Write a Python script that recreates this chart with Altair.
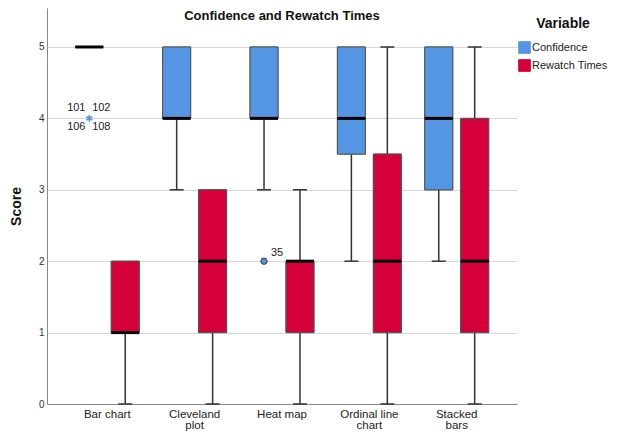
import altair as alt
import pandas as pd

# ---- data ----
categories = ["Bar chart", "Cleveland plot", "Heat map", "Ordinal line chart", "Stacked bars"]
cat_lines = [["Bar chart"], ["Cleveland", "plot"], ["Heat map"], ["Ordinal line", "chart"], ["Stacked", "bars"]]
series = ["Confidence", "Rewatch Times"]
colors = ["#5596e4", "#d5003a"]

conf_low = [5, 3, 3, 2, 2]
conf_q1 = [5, 4, 4, 3.5, 3]
conf_med = [5, 4, 4, 4, 4]
conf_q3 = [5, 5, 5, 5, 5]
conf_high = [5, 5, 5, 5, 5]

rew_low = [0, 0, 0, 0, 0]
rew_q1 = [1, 1, 1, 1, 1]
rew_med = [1, 2, 2, 2, 2]
rew_q3 = [2, 3, 2, 3.5, 4]
rew_high = [2, 3, 3, 5, 5]

out_cat = ["Bar chart", "Heat map"]
out_series = ["Confidence", "Confidence"]
out_value = [4, 2]
out_kind = ["extreme", "outlier"]
out_ids = [[101, 102, 106, 108], [35]]

# ---- tables ----
rows = []
for i, c in enumerate(categories):
    rows.append(dict(cat=c, series="Confidence", low=conf_low[i], q1=conf_q1[i], med=conf_med[i], q3=conf_q3[i], high=conf_high[i]))
    rows.append(dict(cat=c, series="Rewatch Times", low=rew_low[i], q1=rew_q1[i], med=rew_med[i], q3=rew_q3[i], high=rew_high[i]))
box = pd.DataFrame(rows)

orows, lrows = [], []
for c, s, v, k, ids in zip(out_cat, out_series, out_value, out_kind, out_ids):
    orows.append(dict(cat=c, series=s, value=v, kind=k))
    if len(ids) == 1:
        lrows.append(dict(cat=c, series=s, value=v, id=str(ids[0]), pos="r"))
    else:
        for pid, p in zip(ids, ["tl", "tr", "bl", "br"]):
            lrows.append(dict(cat=c, series=s, value=v, id=str(pid), pos=p))
outl = pd.DataFrame(orows)
labs = pd.DataFrame(lrows)

# label expression for wrapped x labels
expr = ""
for c, ln in zip(categories, cat_lines):
    expr += f"datum.value == '{c}' ? {ln} : "
expr += "datum.value"

font = "Liberation Sans"
ymax = 5.546

X = alt.X("cat:N", sort=categories, title=None,
          scale=alt.Scale(paddingOuter=0.19, paddingInner=0),
          axis=alt.Axis(labelExpr=expr, labelAngle=0, ticks=False, labelPadding=4,
                        labelFontSize=11.5, labelColor="#222", labelFont=font,
                        domainColor="#888", labelLineHeight=11.5))
XO = alt.XOffset("series:N", sort=series,
                 scale=alt.Scale(paddingInner=0.222, paddingOuter=0.326))
yscale = alt.Scale(domain=[0, ymax], nice=False)
color = alt.Color("series:N", sort=series, scale=alt.Scale(domain=series, range=colors),
                  legend=alt.Legend(title="Variable", orient="none", legendX=471, legendY=9,
                                    symbolType="square", symbolSize=135, symbolStrokeColor="#333",
                                    symbolStrokeWidth=1, titleFontSize=14, titleFont=font,
                                    titleFontWeight="bold", titleColor="#111", titleAnchor="middle",
                                    labelFontSize=11, labelFont=font, labelColor="#222",
                                    titlePadding=10, rowPadding=1, labelOffset=1))

base = alt.Chart(box)

boxes = base.mark_bar(stroke="#555", strokeWidth=1).encode(
    x=X, xOffset=XO,
    y=alt.Y("q1:Q", scale=yscale, title="Score",
            axis=alt.Axis(values=[0, 1, 2, 3, 4, 5], format="d", ticks=False, labelPadding=3, labelFontSize=10,
                          labelColor="#333", labelFont=font, domainColor="#888", gridColor="#d6d6d6",
                          titleFont=font, titleFontSize=14, titleFontWeight="bold", titleColor="#111",
                          titleAngle=-90, titleX=-31, titleY=198, titleAlign="center",
                          titleBaseline="middle")),
    y2="q3:Q", color=color)

wlow = base.transform_filter("datum.low < datum.q1").mark_rule(color="#333", strokeWidth=1.5).encode(
    x=X, xOffset=XO, y=alt.Y("low:Q", scale=yscale), y2="q1:Q")
whigh = base.transform_filter("datum.high > datum.q3").mark_rule(color="#333", strokeWidth=1.5).encode(
    x=X, xOffset=XO, y=alt.Y("q3:Q", scale=yscale), y2="high:Q")
clow = base.transform_filter("datum.low < datum.q1").mark_tick(color="#333", size=14, thickness=1.5, opacity=1).encode(
    x=X, xOffset=XO, y=alt.Y("low:Q", scale=yscale))
chigh = base.transform_filter("datum.high > datum.q3").mark_tick(color="#333", size=14, thickness=1.5, opacity=1).encode(
    x=X, xOffset=XO, y=alt.Y("high:Q", scale=yscale))
med = base.mark_tick(color="#000", size=28, thickness=3, opacity=1).encode(
    x=X, xOffset=XO, y=alt.Y("med:Q", scale=yscale))

ob = alt.Chart(outl)
circ = ob.transform_filter("datum.kind == 'outlier'").mark_point(
    shape="circle", filled=True, size=40, stroke="#333", strokeWidth=1, opacity=1).encode(
    x=X, xOffset=XO, y=alt.Y("value:Q", scale=yscale), color=color)
star = ob.transform_filter("datum.kind == 'extreme'").mark_point(
    shape="M0,-1L0,1M-0.87,-0.5L0.87,0.5M-0.87,0.5L0.87,-0.5", filled=False, size=45,
    strokeWidth=1.7, opacity=1).encode(
    x=X, xOffset=XO, y=alt.Y("value:Q", scale=yscale), color=color)

lb = alt.Chart(labs)
offs = {"tl": (-13, -10), "tr": (12, -10), "bl": (-13, 9), "br": (12, 9), "r": (13, -8)}
texts = []
for p, (dx, dy) in offs.items():
    texts.append(lb.transform_filter(f"datum.pos == '{p}'").mark_text(
        dx=dx, dy=dy, fontSize=11, font=font, color="#222").encode(
        x=X, xOffset=XO, y=alt.Y("value:Q", scale=yscale), text="id:N"))

chart = alt.layer(boxes, wlow, whigh, clow, chigh, boxes, med, circ, star, *texts).properties(
    width=470, height=396,
    title=alt.TitleParams("Confidence and Rewatch Times", fontSize=13, font=font, fontWeight="bold",
                          color="#111", anchor="middle", offset=0, dy=15),
    autosize=alt.AutoSizeParams(type="none"),
    padding={"left": 39, "top": 0, "right": 94, "bottom": 27},
).configure_view(stroke=None)

chart.save("out.html", embed_options={"renderer": "svg", "actions": False})
